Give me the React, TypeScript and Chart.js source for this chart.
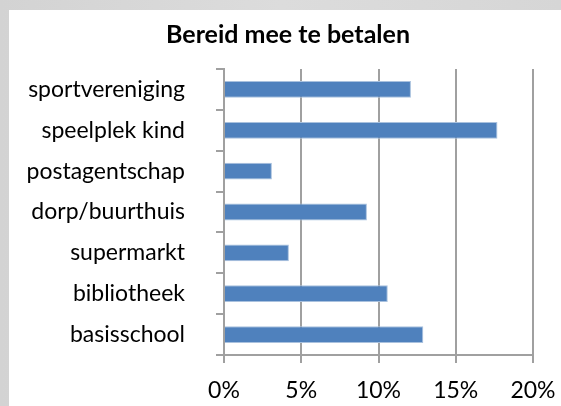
import React, { useEffect, useRef } from "react";
import { Chart, registerables } from "chart.js";

Chart.register(...registerables);

const categories = [
  "sportvereniging",
  "speelplek kind",
  "postagentschap",
  "dorp/buurthuis",
  "supermarkt",
  "bibliotheek",
  "basisschool",
];
const values = [12.1, 17.7, 3.1, 9.25, 4.2, 10.6, 12.9];
const xTicks = [0, 5, 10, 15, 20];
const title = "Bereid mee te betalen";

const FONT = "Lato, 'Open Sans', sans-serif";
const GRID = "#a0a0a0";

export default function App() {
  const ref = useRef<HTMLCanvasElement | null>(null);
  useEffect(() => {
    if (!ref.current) return;
    const chart = new Chart(ref.current, {
      type: "bar",
      data: {
        labels: categories,
        datasets: [
          {
            data: values,
            backgroundColor: "#4f81bd",
            borderColor: "#a9c1de",
            borderWidth: 1,
            barPercentage: 0.41,
            categoryPercentage: 1,
          },
        ],
      },
      options: {
        indexAxis: "y",
        animation: false,
        responsive: false,
        maintainAspectRatio: false,
        layout: { padding: { left: 15, right: 0, top: 0, bottom: 0 } },
        plugins: {
          legend: { display: false },
          tooltip: { enabled: false },
          title: {
            display: true,
            text: title,
            color: "#000",
            font: { family: FONT, size: 25, weight: "bold" },
            padding: { top: 20, bottom: 19 },
          },
        },
        scales: {
          x: {
            min: 0,
            max: 20,
            afterFit: (s: any) => {
              s.height = 51;
              s.paddingRight = 28;
            },
            afterBuildTicks: (s: any) => {
              s.ticks = xTicks.map((v) => ({ value: v }));
            },
            ticks: {
              color: "#000",
              font: { family: FONT, size: 23 },
              padding: 14,
              maxRotation: 0,
              callback: (v: any) => v + "%",
            },
            grid: {
              color: GRID,
              lineWidth: 2,
              tickLength: 8,
              drawOnChartArea: true,
            },
            border: { display: true, color: GRID, width: 2 },
          },
          y: {
            afterFit: (s: any) => {
              s.width = 209;
            },
            ticks: {
              color: "#000",
              font: { family: FONT, size: 23 },
              padding: 31,
            },
            grid: {
              color: GRID,
              lineWidth: 2,
              tickLength: 8,
              drawOnChartArea: false,
              offset: true,
            },
            border: { display: true, color: GRID, width: 2 },
          },
        },
      },
    });
    return () => chart.destroy();
  }, []);

  return (
    <div
      style={{
        position: "fixed",
        left: 0,
        top: 0,
        width: 561,
        height: 406,
        background: "linear-gradient(90deg, #d3d3d3, #dcdcdc 50%, #d6d6d6)",
        overflow: "hidden",
      }}
    >
      <div
        style={{
          position: "absolute",
          left: 9,
          top: 10,
          width: 552,
          height: 396,
          background: "#ffffff",
        }}
      />
      <canvas
        ref={ref}
        width={561}
        height={406}
        style={{ position: "absolute", left: 0, top: 0, width: 561, height: 406 }}
      />
    </div>
  );
}
